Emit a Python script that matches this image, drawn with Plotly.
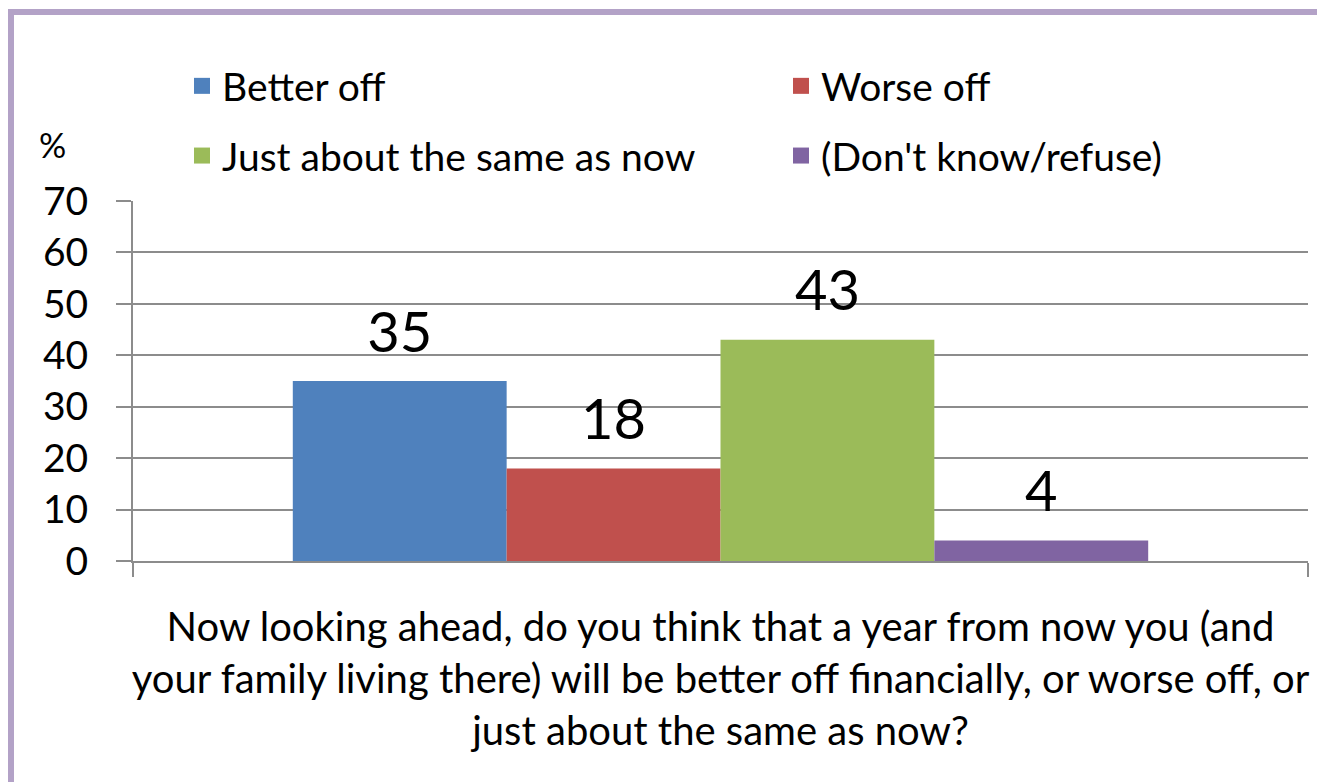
import plotly.graph_objects as go

categories = ["Now looking ahead, do you think that a year from now you (and<br>your family living there) will be better off financially, or worse off, or<br>just about the same as now?"]
series_names = ["Better off", "Worse off", "Just about the same as now", "(Don't know/refuse)"]
series_values = [35, 18, 43, 4]
colors = ["#4F81BD", "#C0504D", "#9BBB59", "#8064A2"]
legend_ids = ["legend", "legend2", "legend", "legend2"]
y_ticks = [0, 10, 20, 30, 40, 50, 60, 70]

FONT = "Lato"
W, H = 1317, 782
ML, MR, MT, MB = 133, 9, 201, 221
pw = W - ML - MR
ph = H - MT - MB
LABEL_PAD = 2.8  # gap (in axis units) between bar top and its value label

fig = go.Figure()
for i, (name, val, col) in enumerate(zip(series_names, series_values, colors)):
    fig.add_trace(go.Bar(
        x=categories, y=[val], name=name, marker_color=col, marker_line_width=0,
        offsetgroup=str(i), showlegend=False,
    ))
    # transparent spacer carrying the value label above the bar
    fig.add_trace(go.Bar(
        x=categories, y=[LABEL_PAD], base=[val], name=name, offsetgroup=str(i),
        marker_color="rgba(0,0,0,0)", marker_line_width=0,
        text=[str(val)], textposition="outside", textfont=dict(size=56, color="black", family=FONT),
        cliponaxis=False, showlegend=False, hoverinfo="skip",
    ))
for name, col, lg in zip(series_names, colors, legend_ids):
    fig.add_trace(go.Scatter(
        x=[None], y=[None], mode="markers", name=name, legend=lg, legendgroup=name,
        marker=dict(symbol="square", size=16, color=col), showlegend=True,
    ))

legend_common = dict(
    orientation="v", xanchor="left", yanchor="top", yref="paper", xref="paper",
    font=dict(size=39, family=FONT, color="black"),
    bgcolor="rgba(0,0,0,0)", itemclick=False, tracegroupgap=16,
)

fig.update_layout(
    width=W, height=H,
    margin=dict(l=ML, r=MR, t=MT, b=MB, autoexpand=False),
    paper_bgcolor="white", plot_bgcolor="white",
    font=dict(family=FONT, color="black"),
    barmode="group", bargap=0.272, bargroupgap=0,
    legend=dict(legend_common, x=(182 - ML) / pw, y=1 + (MT - 54) / ph),
    legend2=dict(legend_common, x=(781 - ML) / pw, y=1 + (MT - 54) / ph),
    xaxis=dict(
        showline=True, linecolor="#8C8C8C", linewidth=2, automargin=False, tickangle=0,
        ticks="outside", tickson="boundaries", ticklen=14, tickcolor="#8C8C8C", tickwidth=2,
        ticklabelstandoff=30,
        tickfont=dict(size=40, family=FONT, color="black"),
        showgrid=False,
    ),
    yaxis=dict(
        range=[0, 70], tickvals=y_ticks, showgrid=True, gridcolor="#8C8C8C", gridwidth=1.5,
        showline=True, linecolor="#8C8C8C", linewidth=2, automargin=False,
        ticks="outside", ticklen=15, tickcolor="#8C8C8C", tickwidth=1.5,
        ticklabelstandoff=20,
        tickfont=dict(size=39, family=FONT, color="black"), zeroline=False,
    ),
    annotations=[dict(
        text="%", xref="paper", yref="paper", xanchor="center", yanchor="middle",
        x=(52 - ML) / pw, y=1 + (MT - 144) / ph,
        showarrow=False, font=dict(size=34, family=FONT, color="black"),
    )],
    shapes=[
        dict(type="line", xref="paper", yref="paper",
             x0=(11 - ML) / pw, x1=(11 - ML) / pw, y0=-2, y1=1 + (MT - 9) / ph,
             line=dict(color="#B3A2C7", width=6)),
        dict(type="line", xref="paper", yref="paper",
             x0=(8 - ML) / pw, x1=2, y0=1 + (MT - 12) / ph, y1=1 + (MT - 12) / ph,
             line=dict(color="#B3A2C7", width=6)),
    ],
)

fig.write_html(
    "out.html",
    config={"displayModeBar": False},
    post_script="document.body.style.margin='0';document.body.style.overflow='hidden';",
)
